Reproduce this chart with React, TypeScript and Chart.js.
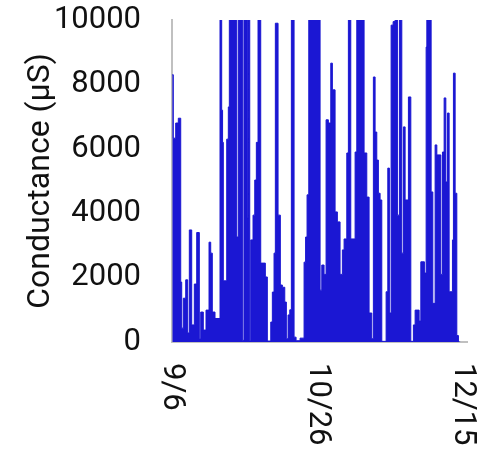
import React, { useEffect, useRef } from "react";
import { Chart, registerables } from "chart.js";

Chart.register(...registerables);

// Days since 9/6 at which each reading starts
const dayOffsets = [
  0.1, 0.45, 1.27, 2.17, 3.0, 3.34, 3.89, 4.72, 5.4, 5.96, 6.78, 7.68, 8.5, 9.4, 9.88,
  10.77, 11.7, 12.74, 13.32, 13.87, 14.8, 16.52, 17.1, 17.4, 17.66, 18.83, 19.38, 19.73,
  22.27, 22.82, 24.34, 24.78, 25.92, 26.16, 26.75, 27.09, 27.88, 28.47, 29.02, 29.6,
  30.53, 32.12, 32.8, 33.98, 34.53, 35.11, 35.56, 36.49, 37.28, 37.97, 38.8, 39.35,
  39.93, 40.52, 41.07, 42.0, 42.69, 44.06, 45.44, 45.96, 46.47, 47.06, 50.95, 51.53,
  52.32, 53.01, 53.8, 54.63, 55.18, 56.11, 56.9, 57.83, 58.62, 59.21, 60.14, 60.69,
  61.51, 63.0, 63.58, 66.09, 67.02, 67.81, 68.74, 69.29, 69.88, 70.46, 71.01, 71.6,
  72.18, 73.67, 74.25, 74.8, 75.39, 76.08, 76.76, 77.56, 78.24, 79.07, 79.62, 80.21,
  81.34, 82.17, 83.06, 83.65, 85.03, 85.61, 86.85, 87.44, 87.68, 89.16, 89.74, 90.53,
  91.12, 92.5, 93.05, 93.63, 94.22, 94.77, 95.35, 96.49, 96.83, 97.42, 98.0, 98.55, 99.14,
];

// Conductance readings (µS)
const conductance = [
  8300, 6330, 6800, 6950, 1860, 430, 1360, 1930, 280, 3480, 530, 1800, 3400, 100, 930,
  370, 990, 3100, 2760, 930, 730, 12000, 7200, 6200, 1900, 6300, 7300, 12000,
  3260, 12000, 50, 12000, 3850, 12000, 30, 3170, 3940, 5030, 6200, 12000,
  2450, 2020, 30, 620, 1550, 2760, 9900, 3940, 1770, 1700, 1240, 100,
  840, 1000, 12000, 150, 40, 120, 2480, 3260, 4570, 12000, 1610, 2390,
  2100, 6900, 6800, 8660, 7830, 4040, 3730, 2100, 2860, 3200, 5870, 12000,
  3200, 5900, 12000, 5870, 4500, 900, 100, 8230, 6520, 5650, 4620, 4410,
  20, 1560, 5400, 900, 9840, 9950, 12000, 3940, 12000, 2760, 6680, 4410,
  7610, 20, 530, 990, 650, 2490, 2140, 9160, 12000, 4660, 1200, 6120,
  5810, 2100, 5900, 7580, 4970, 7110, 1560, 3170, 8350, 4620, 200, 0, 0,
];

const tickDays = [0, 50, 100];
const tickLabels = ["9/6", "10/26", "12/15"];
const yTicks = [0, 2000, 4000, 6000, 8000, 10000];

const BLUE = "#1b17d3";
const AXIS_GRAY = "#c0c0c0";
const FONT = "Roboto";

export default function App() {
  const canvasRef = useRef<HTMLCanvasElement | null>(null);

  useEffect(() => {
    const canvas = canvasRef.current;
    if (!canvas) return;

    const rotatedXLabels = {
      id: "rotatedXLabels",
      afterDraw(chart: any) {
        const xs = chart.scales.x;
        const ctx = chart.ctx;
        ctx.save();
        ctx.font = `31px ${FONT}`;
        ctx.fillStyle = "#111111";
        ctx.textAlign = "left";
        ctx.textBaseline = "middle";
        tickDays.forEach((d, i) => {
          const px = xs.getPixelForValue(d);
          ctx.save();
          ctx.translate(px, chart.chartArea.bottom + 21);
          ctx.rotate(Math.PI / 2);
          ctx.fillText(tickLabels[i], 0, 0);
          ctx.restore();
        });
        ctx.restore();
      },
    };

    const chart = new Chart(canvas, {
      type: "line",
      data: {
        datasets: [
          {
            data: dayOffsets.map((d, i) => ({ x: d, y: conductance[i] })),
            borderColor: BLUE,
            backgroundColor: BLUE,
            borderWidth: 1,
            fill: "origin",
            stepped: true,
            pointRadius: 0,
            tension: 0,
          },
        ],
      },
      options: {
        responsive: false,
        animation: false,
        layout: { padding: { left: 0, right: 20, top: 20, bottom: 108 } },
        plugins: {
          legend: { display: false },
          tooltip: { enabled: false },
        },
        scales: {
          x: {
            type: "linear",
            min: 0,
            max: 101.5,
            grid: { display: false, drawTicks: false },
            border: { display: true, color: AXIS_GRAY, width: 2 },
            ticks: { display: false },
            afterBuildTicks: (scale: any) => {
              scale.ticks = tickDays.map((v) => ({ value: v }));
            },
            afterFit: (scale: any) => {
              scale.paddingLeft = 0;
              scale.paddingRight = 0;
            },
          },
          y: {
            min: 0,
            max: 10000,
            grid: { display: false, drawTicks: false },
            border: { display: true, color: AXIS_GRAY, width: 2 },
            afterBuildTicks: (scale: any) => {
              scale.ticks = yTicks.map((v) => ({ value: v }));
            },
            afterFit: (scale: any) => {
              scale.width = 172;
              scale.paddingTop = 0;
              scale.paddingBottom = 0;
            },
            ticks: {
              color: "#111111",
              padding: 31,
              font: { family: FONT, size: 31 },
              callback: (v: any) => String(v),
            },
            title: {
              display: true,
              text: "Conductance (µS)",
              color: "#111111",
              font: { family: FONT, size: 32 },
              padding: { top: 22, bottom: 0 },
            },
          },
        },
      },
      plugins: [rotatedXLabels],
    });

    return () => chart.destroy();
  }, []);

  return (
    <div style={{ position: "absolute", left: 0, top: 0, width: 487, height: 450, background: "#fff" }}>
      <canvas ref={canvasRef} width={487} height={450} />
    </div>
  );
}
